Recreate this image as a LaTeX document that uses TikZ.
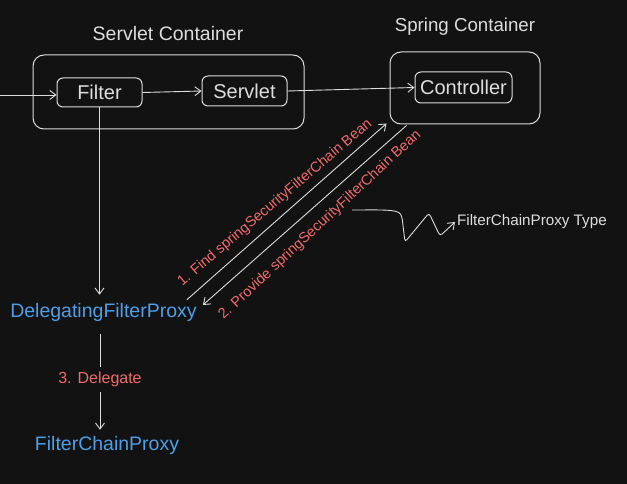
\documentclass[tikz,border=0pt]{standalone}
\usepackage{fontspec}
\setmainfont{Liberation Sans}
\usetikzlibrary{arrows.meta}
\definecolor{bg}{HTML}{121212}
\definecolor{ink}{HTML}{DDDDDD}
\definecolor{redtxt}{HTML}{F26B6B}
\definecolor{bluetxt}{HTML}{4C9FE8}
\newcommand{\fs}[1]{\fontsize{#1}{#1}\selectfont}
\tikzset{
  bigbox/.style={draw=ink, line width=1pt, rounded corners=11pt, inner sep=0pt},
  smallbox/.style={draw=ink, line width=1pt, rounded corners=6pt, inner sep=0pt, text=ink, font=\fs{20}},
  title/.style={text=ink, font=\fs{19.5}, inner sep=0pt},
  bluelbl/.style={text=bluetxt, font=\fs{19.5}, inner sep=0pt},
  redlbl/.style={text=redtxt, font=\fs{14.5}, inner sep=0pt},
  arr/.style={draw=ink, line width=0.9pt, -{Straight Barb[length=6pt,width=9pt]}},
  ln/.style={draw=ink, line width=0.9pt}
}
\begin{document}
\begin{tikzpicture}[x=1pt,y=-1pt]
\fill[bg] (0,0) rectangle (627,484);
\useasboundingbox (0,0) rectangle (627,484);

% Servlet container
\node[title] (sctitle) at (168,34) {Servlet Container};
\node[bigbox, minimum width=271pt, minimum height=74pt] (scbox) at (168.5,92) {};
\node[smallbox, minimum width=85pt, minimum height=29pt] (filter) at (99.5,92.5) {Filter};
\node[smallbox, minimum width=85pt, minimum height=30pt] (servlet) at (244.5,91) {Servlet};

% Spring container
\node[title, font=\fs{18.7}] (sptitle) at (465,27) {Spring Container};
\node[bigbox, minimum width=150pt, minimum height=72pt] (spbox) at (465,88) {};
\node[smallbox, minimum width=97pt, minimum height=31pt] (controller) at (463.5,87.5) {Controller};

% bottom labels
\node[bluelbl] (dfp) at (103.5,312) {DelegatingFilterProxy};
\node[bluelbl] (fcp) at (107,445) {FilterChainProxy};
\node[text=ink, font=\fs{15.2}, inner sep=0pt, anchor=west] (fcptype) at (457,222) {FilterChainProxy Type};

\coordinate (in) at (0,95);
\coordinate (sq) at (352,210);

% connectors
\draw[arr] (in) -- (in -| filter.west);
\draw[arr] (filter.south) -- ([yshift=8pt]filter.south |- dfp.north);
\draw[arr] (filter.east) -- (servlet.west);
\draw[arr] (servlet.east) -- (controller.west);
\draw[arr] ([xshift=-3.5pt,yshift=-13pt]dfp.south) -- ([xshift=-3.5pt,yshift=6pt]dfp.south |- fcp.north)
  node[pos=0.47, fill=bg, redlbl, font=\fs{16}, inner ysep=5pt, inner xsep=2pt] (deleg) {3. Delegate};

% diagonals
\draw[arr] ([xshift=-10pt,yshift=3pt]dfp.north east) -- ([xshift=-3pt,yshift=1pt]spbox.south west);
\draw[arr] ([xshift=17pt,yshift=-1pt]spbox.south west) -- ([xshift=6pt,yshift=7pt]dfp.east);
\node[redlbl, rotate=40.3] (lbl1) at (275,203) {1. Find springSecurityFilterChain Bean};
\node[redlbl, rotate=43] (lbl2) at (320,225) {2. Provide springSecurityFilterChain Bean};

% squiggle
\draw[arr, rounded corners=3pt] (sq) .. controls (380,210) and (398,209) .. (402,217)
  -- (405,242) -- (429,213) -- (440,236) -- ([xshift=-2pt]fcptype.west);
\end{tikzpicture}
\end{document}
